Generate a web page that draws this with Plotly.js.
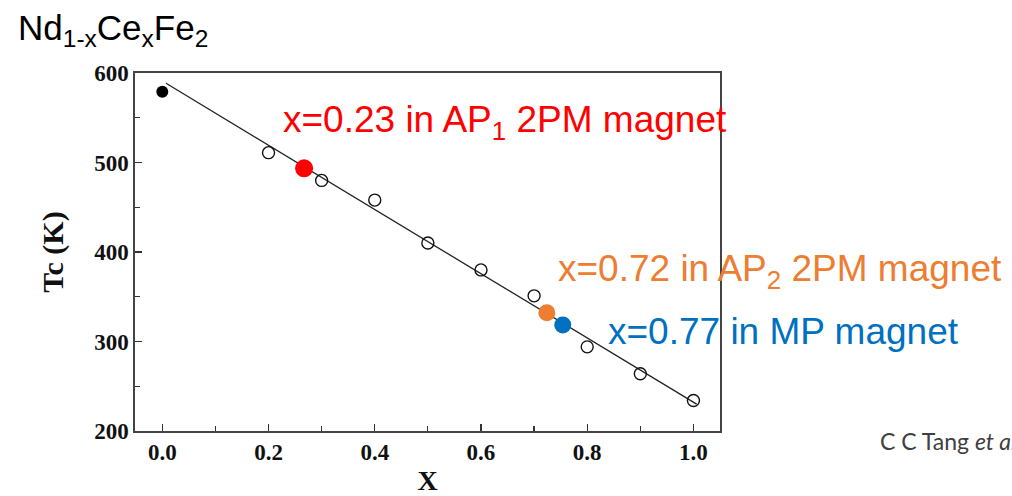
<!DOCTYPE html>
<html>
<head>
<meta charset="utf-8">
<script src="https://cdn.plot.ly/plotly-3.0.1.min.js"></script>
<style>html,body{margin:0;padding:0;background:#fff;overflow:hidden}#chart{width:1012px;height:496px}</style>
</head>
<body>
<div id="chart"></div>
<script>
// Measured (open circles)
const openX = [0.2, 0.3, 0.4, 0.5, 0.6, 0.7, 0.8, 0.9, 1.0];
const openTc = [511, 480, 458, 410, 380, 351, 294, 264, 234];
// Filled black point (x = 0)
const blackX = [0.0];
const blackTc = [579];
// Linear fit line endpoints
const fitX = [0.007, 1.006];
const fitTc = [588.5, 230];
// Highlighted magnets
const redX = [0.267];   const redTc = [493.5];
const orangeX = [0.724]; const orangeTc = [332];
const blueX = [0.754];  const blueTc = [318.5];
// Tick labels
const xTicks = [0.0, 0.2, 0.4, 0.6, 0.8, 1.0];
const xTickText = ['0.0', '0.2', '0.4', '0.6', '0.8', '1.0'];
const yTicks = [200, 300, 400, 500, 600];
const yTickText = ['200', '300', '400', '500', '600'];

const serif = 'Liberation Serif, Times New Roman, serif';
const sans = 'Liberation Sans, Arial, sans-serif';

const traces = [
  {x: fitX, y: fitTc, mode: 'lines', line: {color: '#222', width: 1.3}, hoverinfo: 'skip'},
  {x: openX, y: openTc, mode: 'markers', marker: {symbol: 'circle-open', size: 12, color: '#111', line: {width: 1.4}}},
  {x: blackX, y: blackTc, mode: 'markers', marker: {symbol: 'circle', size: 12, color: '#000'}},
  {x: redX, y: redTc, mode: 'markers', marker: {symbol: 'circle', size: 18, color: '#FF0000'}},
  {x: orangeX, y: orangeTc, mode: 'markers', marker: {symbol: 'circle', size: 17, color: '#ED7D31'}},
  {x: blueX, y: blueTc, mode: 'markers', marker: {symbol: 'circle', size: 17, color: '#0070C0'}}
];

const L = 135, R = 720, T = 73, B = 431;
const px = v => (v - L) / (R - L);
const py = v => (B - v) / (B - T);

const layout = {
  width: 1012, height: 496,
  margin: {l: L, r: 1012 - R, t: T, b: 496 - B},
  paper_bgcolor: '#fff', plot_bgcolor: '#fff',
  showlegend: false,
  xaxis: {
    range: [-0.0514, 1.050], tickvals: xTicks, ticktext: xTickText,
    ticks: 'inside', ticklen: 7, tickwidth: 1.2, tickcolor: '#333',
    minor: {dtick: 0.1, tick0: 0, ticks: 'inside', ticklen: 5, tickwidth: 1.2, tickcolor: '#333'},
    showgrid: false, zeroline: false, showline: true, linecolor: '#444', linewidth: 1.6, mirror: true,
    tickfont: {family: serif, size: 23, color: '#111', weight: 'bold'},
    title: {text: 'X', font: {family: serif, size: 28, color: '#111', weight: 'bold'}, standoff: 10}
  },
  yaxis: {
    range: [200, 600], tickvals: yTicks, ticktext: yTickText,
    ticks: 'inside', ticklen: 7, tickwidth: 1.2, tickcolor: '#333',
    minor: {dtick: 50, tick0: 200, ticks: 'inside', ticklen: 5, tickwidth: 1.2, tickcolor: '#333'},
    showgrid: false, zeroline: false, showline: true, linecolor: '#444', linewidth: 1.6, mirror: true,
    tickfont: {family: serif, size: 23, color: '#111', weight: 'bold'},
    title: {text: 'Tc (K)', font: {family: serif, size: 30, color: '#111', weight: 'bold'}, standoff: 22}
  },
  annotations: [
    {xref: 'paper', yref: 'paper', x: px(16), y: py(30), xanchor: 'left', yanchor: 'middle', showarrow: false,
     text: 'Nd<sub>1-x</sub>Ce<sub>x</sub>Fe<sub>2</sub>', font: {family: sans, size: 35, color: '#000'}},
    {xref: 'paper', yref: 'paper', x: px(281), y: py(122), xanchor: 'left', yanchor: 'middle', showarrow: false,
     text: 'x=0.23 in AP<sub>1</sub> 2PM magnet', font: {family: sans, size: 37, color: '#FF0000'}},
    {xref: 'paper', yref: 'paper', x: px(556), y: py(271), xanchor: 'left', yanchor: 'middle', showarrow: false,
     text: 'x=0.72 in AP<sub>2</sub> 2PM magnet', font: {family: sans, size: 37, color: '#ED7D31'}},
    {xref: 'paper', yref: 'paper', x: px(606), y: py(331), xanchor: 'left', yanchor: 'middle', showarrow: false,
     text: 'x=0.77 in MP magnet', font: {family: sans, size: 37, color: '#0070C0'}},
    {xref: 'paper', yref: 'paper', x: px(878), y: py(441), xanchor: 'left', yanchor: 'middle', showarrow: false,
     text: 'C C Tang <i>et al</i>', font: {family: 'Lato, Open Sans, sans-serif', size: 23, color: '#404040'}}
  ]
};

Plotly.newPlot('chart', traces, layout, {displayModeBar: false, staticPlot: true});
</script>
</body>
</html>
